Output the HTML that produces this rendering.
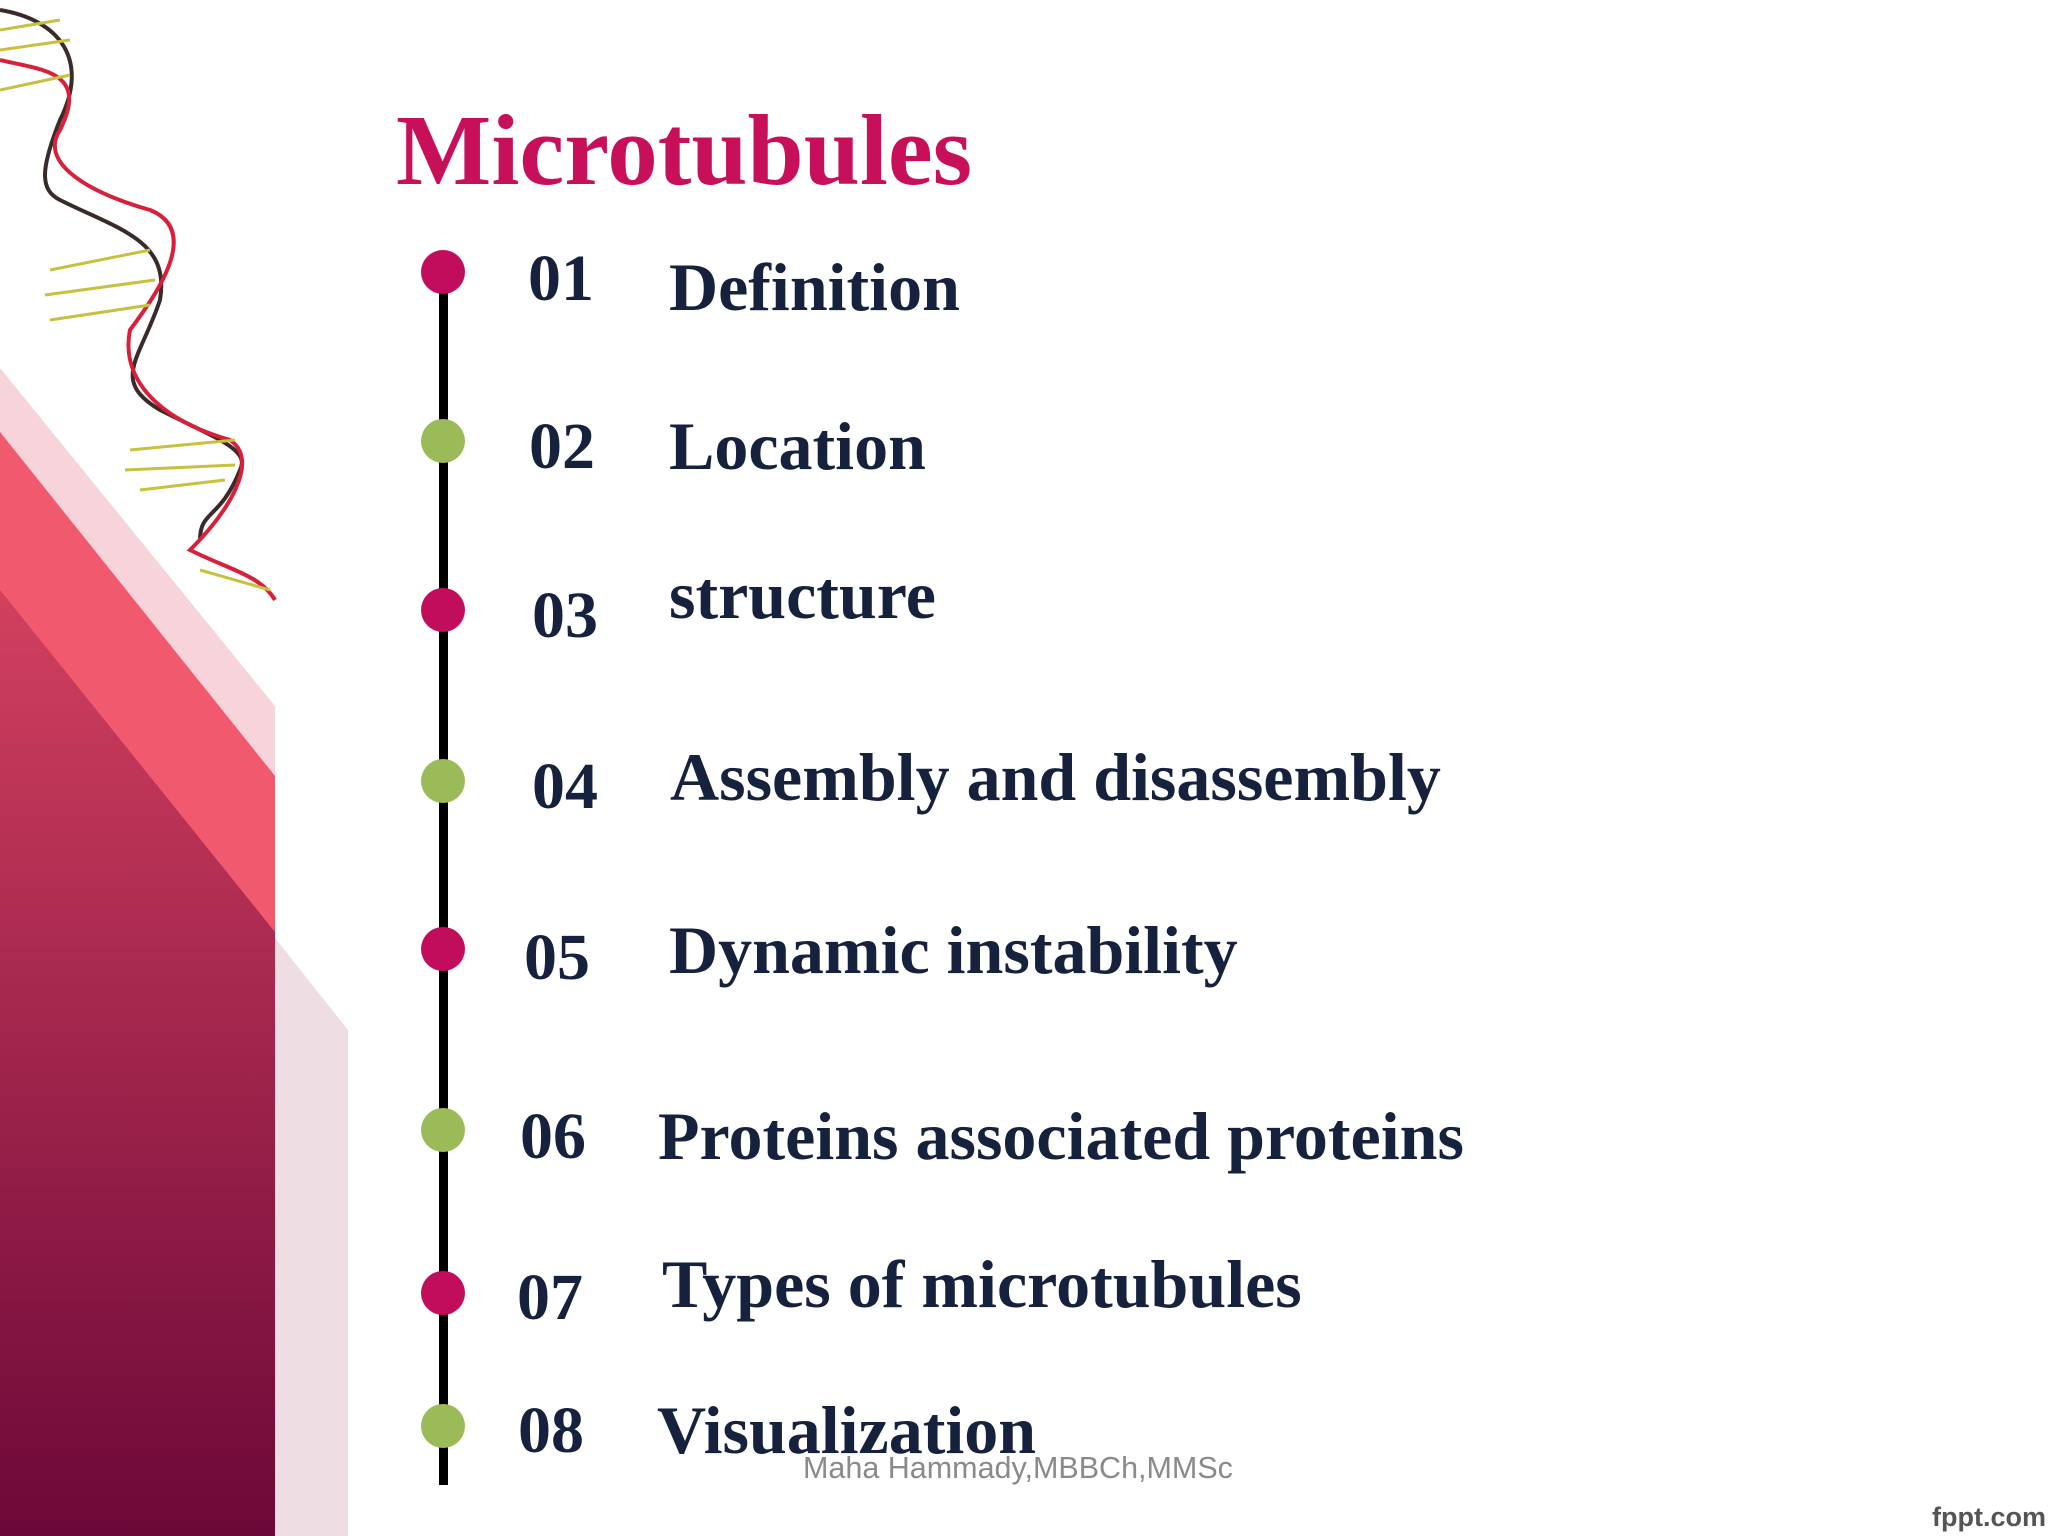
<!DOCTYPE html>
<html><head><meta charset="utf-8"><style>
body{margin:0;width:2048px;height:1536px;overflow:hidden;background:#fff;position:relative;font-family:"Liberation Serif",serif}
.t{position:absolute;white-space:nowrap;line-height:1;font-weight:bold;color:#16213d}
.n{font-size:66px}
.l{font-size:68px}
.dot{position:absolute;width:44px;height:44px;border-radius:50%}
.m{background:#c20d5c}.g{background:#9bbb59}
</style></head><body>
<svg style="position:absolute;left:0;top:0" width="400" height="1536">
<defs><linearGradient id="dg" x1="0" y1="0" x2="0" y2="1"><stop offset="0" stop-color="#d2405f"/><stop offset="1" stop-color="#6c0838"/></linearGradient></defs>
<polygon points="0,368 275,706 275,1536 0,1536" fill="#f6d4da"/>
<polygon points="0,432 275,776 275,1536 0,1536" fill="#f15a6e"/>
<polygon points="0,590 275,932 275,1536 0,1536" fill="url(#dg)"/>
<polygon points="275,938 348,1030 348,1536 275,1536" fill="#eedde2"/>
<g fill="none" stroke-width="4">
<path d="M0,10 C60,20 90,60 60,120 C40,170 40,190 60,200 C120,230 170,240 160,300 C140,360 110,380 160,410 C220,440 250,450 240,470 C220,520 200,510 200,540" stroke="#3a2a2a"/>
<path d="M0,60 C40,70 90,70 60,130 C40,160 80,190 150,210 C200,230 160,290 130,330 C120,380 160,420 230,440 C260,460 230,510 190,550 C230,570 260,575 275,600" stroke="#d8203a"/>
</g>
<g stroke="#c8c040" stroke-width="3">
<line x1="0" y1="30" x2="60" y2="20"/><line x1="0" y1="50" x2="70" y2="40"/><line x1="0" y1="90" x2="70" y2="75"/>
<line x1="50" y1="270" x2="150" y2="250"/><line x1="45" y1="295" x2="155" y2="280"/><line x1="50" y1="320" x2="150" y2="305"/>
<line x1="130" y1="450" x2="235" y2="440"/><line x1="125" y1="470" x2="235" y2="465"/><line x1="140" y1="490" x2="225" y2="480"/>
<line x1="200" y1="570" x2="270" y2="590"/>
</g>
</svg>
<div class="t" style="left:396px;top:100px;font-size:101px;color:#c80f5a">Microtubules</div>
<div style="position:absolute;left:439px;top:272px;width:9px;height:1213px;background:#000"></div>
<div class="dot m" style="left:421px;top:250px"></div>
<div class="dot g" style="left:421px;top:419px"></div>
<div class="dot m" style="left:421px;top:588px"></div>
<div class="dot g" style="left:421px;top:759px"></div>
<div class="dot m" style="left:421px;top:927px"></div>
<div class="dot g" style="left:421px;top:1108px"></div>
<div class="dot m" style="left:421px;top:1271px"></div>
<div class="dot g" style="left:421px;top:1404px"></div>

<div class="t n" style="left:528px;top:246px">01</div>
<div class="t l" style="left:669px;top:253px">Definition</div>
<div class="t n" style="left:529px;top:414px">02</div>
<div class="t l" style="left:669px;top:412px">Location</div>
<div class="t n" style="left:532px;top:583px">03</div>
<div class="t l" style="left:669px;top:561px">structure</div>
<div class="t n" style="left:532px;top:754px">04</div>
<div class="t l" style="left:670px;top:743px">Assembly and disassembly</div>
<div class="t n" style="left:524px;top:925px">05</div>
<div class="t l" style="left:669px;top:916px">Dynamic instability</div>
<div class="t n" style="left:520px;top:1104px">06</div>
<div class="t l" style="left:658px;top:1102px">Proteins associated proteins</div>
<div class="t n" style="left:517px;top:1265px">07</div>
<div class="t l" style="left:662px;top:1250px">Types of microtubules</div>
<div class="t n" style="left:518px;top:1398px">08</div>
<div class="t l" style="left:657px;top:1396px">Visualization</div>

<div style="position:absolute;left:803px;top:1451px;font-family:'Liberation Sans',sans-serif;font-size:30.5px;color:#8a8a8a;white-space:nowrap">Maha Hammady,MBBCh,MMSc</div>
<div style="position:absolute;left:1932px;top:1502px;font-family:'Liberation Sans',sans-serif;font-size:27px;font-weight:bold;color:#555;white-space:nowrap">fppt.com</div>
</body></html>
